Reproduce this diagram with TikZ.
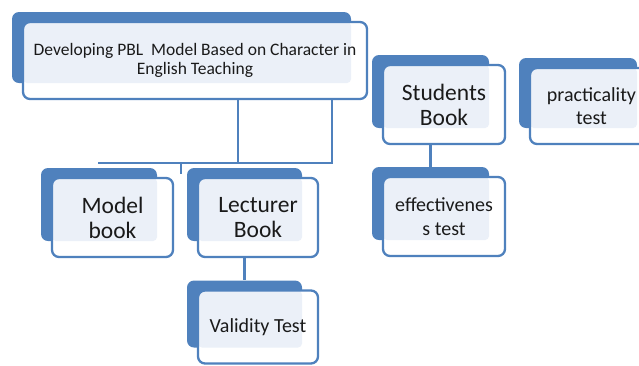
\documentclass[tikz,border=0pt]{standalone}
\usepackage{fontspec}
\setmainfont{Carlito}
\usetikzlibrary{backgrounds}

\definecolor{cardblue}{HTML}{4F81BD}
\definecolor{cardlight}{HTML}{EBF0F8}
\definecolor{cardink}{HTML}{1A1A1A}

\tikzset{
	cardback/.style={fill=cardblue, rounded corners=7pt, inner sep=0pt},
	card/.style={draw=cardblue, line width=2.3pt, fill=white, rounded corners=7pt,
		inner sep=0pt, align=center, text=cardink,
		path picture={\fill[cardlight, rounded corners=4pt] (path picture bounding box.north west)
			rectangle ([shift={(-16pt,16pt)}]path picture bounding box.south east);}},
	link/.style={draw=cardblue, line width=2.6pt},
}

% #1 font, #2 name, #3 x, #4 y, #5 width, #6 height, #7 text
\newcommand{\Card}[7][\fontsize{20}{23.5}\selectfont]{%
	\node[cardback, minimum width=#5pt-5pt, minimum height=#6pt-6pt] (#2b) at (#3-13.5,#4-13) {};
	\node[card, font=#1, minimum width=#5pt, minimum height=#6pt] (#2) at (#3,#4) {#7};
}

\begin{document}
\begin{tikzpicture}[x=1pt,y=-1pt]
	\useasboundingbox (0,0) rectangle (639,365);

	\Card[\fontsize{17.5}{18.5}\selectfont]{main}{195}{60.5}{344}{77}{Developing PBL\ \ Model Based on Character in\\English Teaching}
	\Card[\fontsize{23.5}{25}\selectfont]{model}{112.5}{217.5}{121}{79}{Model\\book}
	\Card[\fontsize{23.5}{25}\selectfont]{lecturer}{258}{217.5}{120}{79}{Lecturer\\Book}
	\Card{validity}{258}{327}{120}{73}{Validity Test}
	\Card[\fontsize{23.5}{25}\selectfont]{students}{444}{104.5}{122}{79}{Students\\Book}
	\Card{effect}{444}{216.5}{122}{79}{effectivenes\\s test}
	\Card{practical}{591.5}{106}{123}{76}{practicality\\test}

	\coordinate (hubL) at (98,163);
	\coordinate (hubA) at (238,163);
	\coordinate (hubB) at (332,163);
	\coordinate (hubT) at (181,174);

	\begin{scope}[on background layer]
		\draw[link] (hubA |- mainb.south) -- (hubA);
		\draw[link] (hubB |- mainb.south) -- (hubB) -- (hubL);
		\draw[link] (hubT |- hubB) -- (hubT);
		\draw[link] (lecturerb.south) -- (validityb.north);
		\draw[link] (studentsb.south) -- (effectb.north);
	\end{scope}
\end{tikzpicture}
\end{document}
